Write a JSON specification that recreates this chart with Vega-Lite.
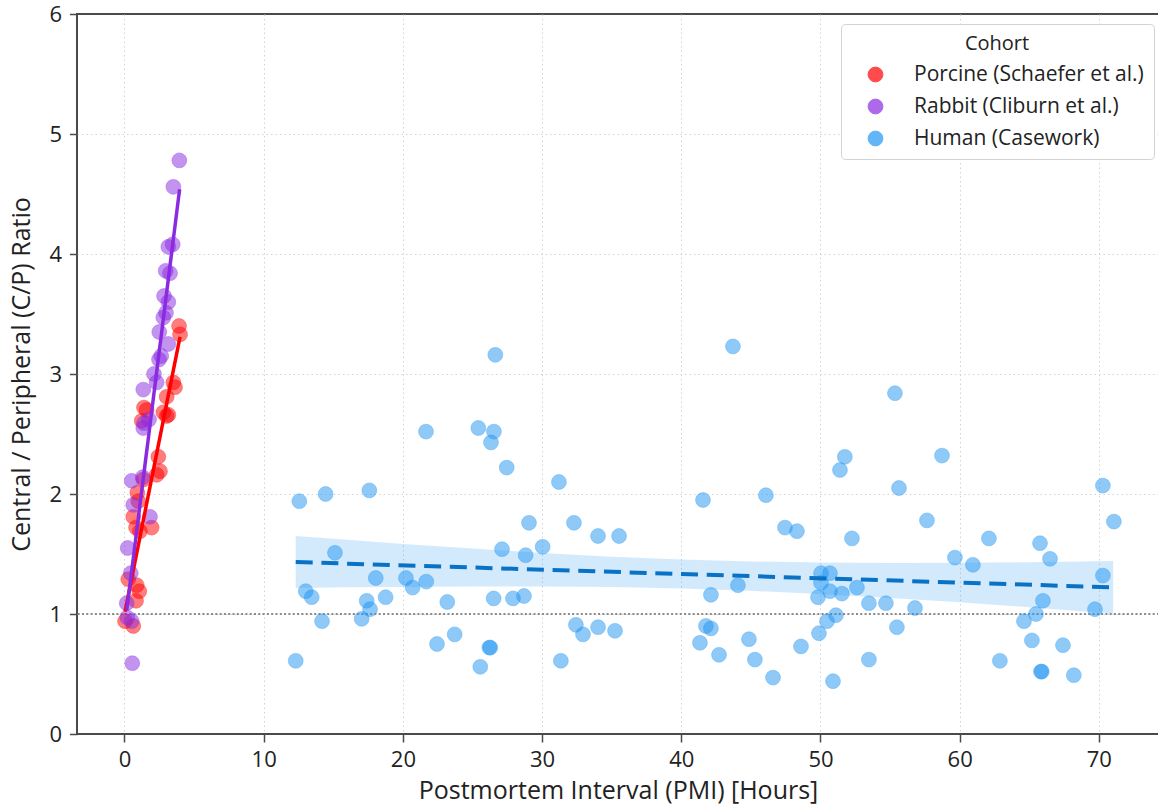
{
  "$schema": "https://vega.github.io/schema/vega-lite/v6.json",
  "width": 1082,
  "height": 720,
  "autosize": {"type": "none"},
  "padding": {"left": 77, "top": 14, "right": 0, "bottom": 75},
  "background": "white",
  "config": {
    "view": {"stroke": "#4a4a4a", "strokeWidth": 2},
    "axis": {
      "domain": false,
      "grid": true,
      "gridColor": "#d2d2d2",
      "gridDash": [1.5, 3],
      "gridWidth": 1,
      "tickColor": "#4a4a4a",
      "tickWidth": 1.5,
      "labelFont": "Open Sans",
      "labelFontSize": 22,
      "labelColor": "#222222",
      "titleFont": "Open Sans",
      "titleFontSize": 25,
      "titleFontWeight": "normal",
      "titleColor": "#222222"
    },
    "legend": {
      "orient": "none",
      "legendX": 764,
      "legendY": 10,
      "titleAnchor": "middle",
      "titleFont": "Open Sans",
      "titleFontSize": 20,
      "titleFontWeight": "normal",
      "titleColor": "#222222",
      "titlePadding": 10,
      "labelFont": "Open Sans",
      "labelFontSize": 21,
      "labelColor": "#222222",
      "labelOffset": 28,
      "labelLimit": 400,
      "symbolOffset": 14,
      "rowPadding": 10,
      "padding": 10,
      "strokeColor": "#d3d3d3",
      "fillColor": "white",
      "cornerRadius": 4,
      "symbolStrokeWidth": 1
    }
  },
  "datasets": {
    "ref": [{"ref": 1}],
    "band": [
      {"pmi": 12.3, "lo": 1.217, "hi": 1.650},
      {"pmi": 16, "lo": 1.222, "hi": 1.618},
      {"pmi": 20, "lo": 1.226, "hi": 1.584},
      {"pmi": 25, "lo": 1.230, "hi": 1.545},
      {"pmi": 30, "lo": 1.230, "hi": 1.509},
      {"pmi": 35, "lo": 1.224, "hi": 1.478},
      {"pmi": 40, "lo": 1.213, "hi": 1.454},
      {"pmi": 45, "lo": 1.193, "hi": 1.438},
      {"pmi": 50, "lo": 1.167, "hi": 1.429},
      {"pmi": 55, "lo": 1.134, "hi": 1.425},
      {"pmi": 60, "lo": 1.097, "hi": 1.427},
      {"pmi": 65, "lo": 1.056, "hi": 1.431},
      {"pmi": 71.03, "lo": 1.003, "hi": 1.442}
    ],
    "fits": [
      {"cohort": "Human (Casework)", "pmi": 12.3, "fit": 1.433},
      {"cohort": "Human (Casework)", "pmi": 71.03, "fit": 1.222},
      {"cohort": "Porcine (Schaefer et al.)", "pmi": 0.04, "fit": 1.02},
      {"cohort": "Porcine (Schaefer et al.)", "pmi": 3.99, "fit": 3.31},
      {"cohort": "Rabbit (Cliburn et al.)", "pmi": 0.16, "fit": 1.03},
      {"cohort": "Rabbit (Cliburn et al.)", "pmi": 3.96, "fit": 4.54}
    ],
    "points": [
      {"cohort": "Porcine (Schaefer et al.)", "pmi": 3.92, "ratio": 3.40},
      {"cohort": "Porcine (Schaefer et al.)", "pmi": 3.99, "ratio": 3.33},
      {"cohort": "Porcine (Schaefer et al.)", "pmi": 3.51, "ratio": 2.93},
      {"cohort": "Porcine (Schaefer et al.)", "pmi": 3.63, "ratio": 2.89},
      {"cohort": "Porcine (Schaefer et al.)", "pmi": 3.03, "ratio": 2.81},
      {"cohort": "Porcine (Schaefer et al.)", "pmi": 3.15, "ratio": 2.66},
      {"cohort": "Porcine (Schaefer et al.)", "pmi": 2.79, "ratio": 2.68},
      {"cohort": "Porcine (Schaefer et al.)", "pmi": 1.40, "ratio": 2.72},
      {"cohort": "Porcine (Schaefer et al.)", "pmi": 1.24, "ratio": 2.61},
      {"cohort": "Porcine (Schaefer et al.)", "pmi": 1.59, "ratio": 2.70},
      {"cohort": "Porcine (Schaefer et al.)", "pmi": 3.03, "ratio": 2.65},
      {"cohort": "Porcine (Schaefer et al.)", "pmi": 2.43, "ratio": 2.31},
      {"cohort": "Porcine (Schaefer et al.)", "pmi": 2.55, "ratio": 2.19},
      {"cohort": "Porcine (Schaefer et al.)", "pmi": 2.31, "ratio": 2.16},
      {"cohort": "Porcine (Schaefer et al.)", "pmi": 1.35, "ratio": 2.12},
      {"cohort": "Porcine (Schaefer et al.)", "pmi": 0.92, "ratio": 2.01},
      {"cohort": "Porcine (Schaefer et al.)", "pmi": 0.99, "ratio": 1.94},
      {"cohort": "Porcine (Schaefer et al.)", "pmi": 0.63, "ratio": 1.81},
      {"cohort": "Porcine (Schaefer et al.)", "pmi": 0.83, "ratio": 1.72},
      {"cohort": "Porcine (Schaefer et al.)", "pmi": 1.11, "ratio": 1.69},
      {"cohort": "Porcine (Schaefer et al.)", "pmi": 1.95, "ratio": 1.72},
      {"cohort": "Porcine (Schaefer et al.)", "pmi": 0.27, "ratio": 1.29},
      {"cohort": "Porcine (Schaefer et al.)", "pmi": 0.88, "ratio": 1.24},
      {"cohort": "Porcine (Schaefer et al.)", "pmi": 1.06, "ratio": 1.19},
      {"cohort": "Porcine (Schaefer et al.)", "pmi": 0.83, "ratio": 1.11},
      {"cohort": "Porcine (Schaefer et al.)", "pmi": 0.04, "ratio": 0.94},
      {"cohort": "Porcine (Schaefer et al.)", "pmi": 0.63, "ratio": 0.90},
      {"cohort": "Rabbit (Cliburn et al.)", "pmi": 3.94, "ratio": 4.78},
      {"cohort": "Rabbit (Cliburn et al.)", "pmi": 3.51, "ratio": 4.56},
      {"cohort": "Rabbit (Cliburn et al.)", "pmi": 3.15, "ratio": 4.06},
      {"cohort": "Rabbit (Cliburn et al.)", "pmi": 3.46, "ratio": 4.08},
      {"cohort": "Rabbit (Cliburn et al.)", "pmi": 2.96, "ratio": 3.86},
      {"cohort": "Rabbit (Cliburn et al.)", "pmi": 3.27, "ratio": 3.84},
      {"cohort": "Rabbit (Cliburn et al.)", "pmi": 2.84, "ratio": 3.65},
      {"cohort": "Rabbit (Cliburn et al.)", "pmi": 3.15, "ratio": 3.60},
      {"cohort": "Rabbit (Cliburn et al.)", "pmi": 2.98, "ratio": 3.51},
      {"cohort": "Rabbit (Cliburn et al.)", "pmi": 2.79, "ratio": 3.47},
      {"cohort": "Rabbit (Cliburn et al.)", "pmi": 2.50, "ratio": 3.35},
      {"cohort": "Rabbit (Cliburn et al.)", "pmi": 3.15, "ratio": 3.25},
      {"cohort": "Rabbit (Cliburn et al.)", "pmi": 2.64, "ratio": 3.15},
      {"cohort": "Rabbit (Cliburn et al.)", "pmi": 2.48, "ratio": 3.12},
      {"cohort": "Rabbit (Cliburn et al.)", "pmi": 2.12, "ratio": 3.00},
      {"cohort": "Rabbit (Cliburn et al.)", "pmi": 2.31, "ratio": 2.93},
      {"cohort": "Rabbit (Cliburn et al.)", "pmi": 1.35, "ratio": 2.87},
      {"cohort": "Rabbit (Cliburn et al.)", "pmi": 1.40, "ratio": 2.59},
      {"cohort": "Rabbit (Cliburn et al.)", "pmi": 1.35, "ratio": 2.55},
      {"cohort": "Rabbit (Cliburn et al.)", "pmi": 1.76, "ratio": 2.62},
      {"cohort": "Rabbit (Cliburn et al.)", "pmi": 0.52, "ratio": 2.11},
      {"cohort": "Rabbit (Cliburn et al.)", "pmi": 1.31, "ratio": 2.14},
      {"cohort": "Rabbit (Cliburn et al.)", "pmi": 0.63, "ratio": 1.91},
      {"cohort": "Rabbit (Cliburn et al.)", "pmi": 1.83, "ratio": 1.81},
      {"cohort": "Rabbit (Cliburn et al.)", "pmi": 0.23, "ratio": 1.55},
      {"cohort": "Rabbit (Cliburn et al.)", "pmi": 0.45, "ratio": 1.34},
      {"cohort": "Rabbit (Cliburn et al.)", "pmi": 0.16, "ratio": 1.09},
      {"cohort": "Rabbit (Cliburn et al.)", "pmi": 0.20, "ratio": 0.97},
      {"cohort": "Rabbit (Cliburn et al.)", "pmi": 0.52, "ratio": 0.94},
      {"cohort": "Rabbit (Cliburn et al.)", "pmi": 0.56, "ratio": 0.59},
      {"cohort": "Human (Casework)", "pmi": 12.30, "ratio": 0.61},
      {"cohort": "Human (Casework)", "pmi": 12.56, "ratio": 1.94},
      {"cohort": "Human (Casework)", "pmi": 13.02, "ratio": 1.19},
      {"cohort": "Human (Casework)", "pmi": 13.45, "ratio": 1.14},
      {"cohort": "Human (Casework)", "pmi": 14.45, "ratio": 2.00},
      {"cohort": "Human (Casework)", "pmi": 14.19, "ratio": 0.94},
      {"cohort": "Human (Casework)", "pmi": 15.12, "ratio": 1.51},
      {"cohort": "Human (Casework)", "pmi": 17.04, "ratio": 0.96},
      {"cohort": "Human (Casework)", "pmi": 17.59, "ratio": 2.03},
      {"cohort": "Human (Casework)", "pmi": 17.40, "ratio": 1.11},
      {"cohort": "Human (Casework)", "pmi": 17.64, "ratio": 1.04},
      {"cohort": "Human (Casework)", "pmi": 18.05, "ratio": 1.30},
      {"cohort": "Human (Casework)", "pmi": 18.76, "ratio": 1.14},
      {"cohort": "Human (Casework)", "pmi": 20.22, "ratio": 1.30},
      {"cohort": "Human (Casework)", "pmi": 20.70, "ratio": 1.22},
      {"cohort": "Human (Casework)", "pmi": 21.68, "ratio": 1.27},
      {"cohort": "Human (Casework)", "pmi": 21.66, "ratio": 2.52},
      {"cohort": "Human (Casework)", "pmi": 22.45, "ratio": 0.75},
      {"cohort": "Human (Casework)", "pmi": 23.19, "ratio": 1.10},
      {"cohort": "Human (Casework)", "pmi": 23.72, "ratio": 0.83},
      {"cohort": "Human (Casework)", "pmi": 25.42, "ratio": 2.55},
      {"cohort": "Human (Casework)", "pmi": 25.56, "ratio": 0.56},
      {"cohort": "Human (Casework)", "pmi": 26.33, "ratio": 2.43},
      {"cohort": "Human (Casework)", "pmi": 26.54, "ratio": 2.52},
      {"cohort": "Human (Casework)", "pmi": 26.64, "ratio": 3.16},
      {"cohort": "Human (Casework)", "pmi": 26.21, "ratio": 0.72},
      {"cohort": "Human (Casework)", "pmi": 26.28, "ratio": 0.72},
      {"cohort": "Human (Casework)", "pmi": 26.52, "ratio": 1.13},
      {"cohort": "Human (Casework)", "pmi": 27.12, "ratio": 1.54},
      {"cohort": "Human (Casework)", "pmi": 27.46, "ratio": 2.22},
      {"cohort": "Human (Casework)", "pmi": 27.91, "ratio": 1.13},
      {"cohort": "Human (Casework)", "pmi": 28.70, "ratio": 1.15},
      {"cohort": "Human (Casework)", "pmi": 28.82, "ratio": 1.49},
      {"cohort": "Human (Casework)", "pmi": 29.06, "ratio": 1.76},
      {"cohort": "Human (Casework)", "pmi": 30.04, "ratio": 1.56},
      {"cohort": "Human (Casework)", "pmi": 31.21, "ratio": 2.10},
      {"cohort": "Human (Casework)", "pmi": 31.35, "ratio": 0.61},
      {"cohort": "Human (Casework)", "pmi": 32.29, "ratio": 1.76},
      {"cohort": "Human (Casework)", "pmi": 32.43, "ratio": 0.91},
      {"cohort": "Human (Casework)", "pmi": 32.94, "ratio": 0.83},
      {"cohort": "Human (Casework)", "pmi": 34.02, "ratio": 1.65},
      {"cohort": "Human (Casework)", "pmi": 34.02, "ratio": 0.89},
      {"cohort": "Human (Casework)", "pmi": 35.24, "ratio": 0.86},
      {"cohort": "Human (Casework)", "pmi": 35.53, "ratio": 1.65},
      {"cohort": "Human (Casework)", "pmi": 43.71, "ratio": 3.23},
      {"cohort": "Human (Casework)", "pmi": 41.56, "ratio": 1.95},
      {"cohort": "Human (Casework)", "pmi": 46.08, "ratio": 1.99},
      {"cohort": "Human (Casework)", "pmi": 47.45, "ratio": 1.72},
      {"cohort": "Human (Casework)", "pmi": 48.31, "ratio": 1.69},
      {"cohort": "Human (Casework)", "pmi": 42.13, "ratio": 1.16},
      {"cohort": "Human (Casework)", "pmi": 44.07, "ratio": 1.24},
      {"cohort": "Human (Casework)", "pmi": 41.77, "ratio": 0.90},
      {"cohort": "Human (Casework)", "pmi": 42.13, "ratio": 0.88},
      {"cohort": "Human (Casework)", "pmi": 41.34, "ratio": 0.76},
      {"cohort": "Human (Casework)", "pmi": 42.71, "ratio": 0.66},
      {"cohort": "Human (Casework)", "pmi": 44.86, "ratio": 0.79},
      {"cohort": "Human (Casework)", "pmi": 45.29, "ratio": 0.62},
      {"cohort": "Human (Casework)", "pmi": 46.59, "ratio": 0.47},
      {"cohort": "Human (Casework)", "pmi": 48.60, "ratio": 0.73},
      {"cohort": "Human (Casework)", "pmi": 49.89, "ratio": 0.84},
      {"cohort": "Human (Casework)", "pmi": 50.47, "ratio": 0.94},
      {"cohort": "Human (Casework)", "pmi": 51.11, "ratio": 0.99},
      {"cohort": "Human (Casework)", "pmi": 50.90, "ratio": 0.44},
      {"cohort": "Human (Casework)", "pmi": 49.82, "ratio": 1.14},
      {"cohort": "Human (Casework)", "pmi": 50.04, "ratio": 1.34},
      {"cohort": "Human (Casework)", "pmi": 50.68, "ratio": 1.34},
      {"cohort": "Human (Casework)", "pmi": 50.04, "ratio": 1.26},
      {"cohort": "Human (Casework)", "pmi": 50.68, "ratio": 1.19},
      {"cohort": "Human (Casework)", "pmi": 51.75, "ratio": 2.31},
      {"cohort": "Human (Casework)", "pmi": 51.40, "ratio": 2.20},
      {"cohort": "Human (Casework)", "pmi": 55.35, "ratio": 2.84},
      {"cohort": "Human (Casework)", "pmi": 55.64, "ratio": 2.05},
      {"cohort": "Human (Casework)", "pmi": 58.73, "ratio": 2.32},
      {"cohort": "Human (Casework)", "pmi": 70.29, "ratio": 2.07},
      {"cohort": "Human (Casework)", "pmi": 71.08, "ratio": 1.77},
      {"cohort": "Human (Casework)", "pmi": 52.26, "ratio": 1.63},
      {"cohort": "Human (Casework)", "pmi": 57.65, "ratio": 1.78},
      {"cohort": "Human (Casework)", "pmi": 62.10, "ratio": 1.63},
      {"cohort": "Human (Casework)", "pmi": 65.77, "ratio": 1.59},
      {"cohort": "Human (Casework)", "pmi": 59.66, "ratio": 1.47},
      {"cohort": "Human (Casework)", "pmi": 60.95, "ratio": 1.41},
      {"cohort": "Human (Casework)", "pmi": 66.49, "ratio": 1.46},
      {"cohort": "Human (Casework)", "pmi": 70.29, "ratio": 1.32},
      {"cohort": "Human (Casework)", "pmi": 51.54, "ratio": 1.17},
      {"cohort": "Human (Casework)", "pmi": 52.62, "ratio": 1.22},
      {"cohort": "Human (Casework)", "pmi": 53.48, "ratio": 1.09},
      {"cohort": "Human (Casework)", "pmi": 54.70, "ratio": 1.09},
      {"cohort": "Human (Casework)", "pmi": 56.79, "ratio": 1.05},
      {"cohort": "Human (Casework)", "pmi": 55.49, "ratio": 0.89},
      {"cohort": "Human (Casework)", "pmi": 53.48, "ratio": 0.62},
      {"cohort": "Human (Casework)", "pmi": 65.98, "ratio": 1.11},
      {"cohort": "Human (Casework)", "pmi": 65.48, "ratio": 1.00},
      {"cohort": "Human (Casework)", "pmi": 64.62, "ratio": 0.94},
      {"cohort": "Human (Casework)", "pmi": 69.72, "ratio": 1.04},
      {"cohort": "Human (Casework)", "pmi": 65.19, "ratio": 0.78},
      {"cohort": "Human (Casework)", "pmi": 67.42, "ratio": 0.74},
      {"cohort": "Human (Casework)", "pmi": 62.89, "ratio": 0.61},
      {"cohort": "Human (Casework)", "pmi": 65.84, "ratio": 0.52},
      {"cohort": "Human (Casework)", "pmi": 65.90, "ratio": 0.52},
      {"cohort": "Human (Casework)", "pmi": 68.20, "ratio": 0.49}
    ]
  },
  "layer": [
    {
      "data": {"name": "band"},
      "mark": {"type": "area", "color": "#2196F3", "opacity": 0.2},
      "encoding": {
        "x": {"field": "pmi", "type": "quantitative", "title": "Postmortem Interval (PMI) [Hours]",
              "scale": {"domain": [-3.412, 74.32], "nice": false, "zero": false},
              "axis": {"values": [0, 10, 20, 30, 40, 50, 60, 70], "tickSize": 8, "labelPadding": 7, "titlePadding": 8}},
        "y": {"field": "lo", "type": "quantitative", "title": "Central / Peripheral (C/P) Ratio",
              "scale": {"domain": [0, 6], "nice": false},
              "axis": {"values": [0, 1, 2, 3, 4, 5, 6], "format": "d", "tickSize": 7.5, "labelPadding": 8, "titlePadding": 14,
                       "gridOpacity": {"condition": {"test": "datum.value === 0 || datum.value === 6", "value": 0}, "value": 1}}},
        "y2": {"field": "hi"}
      }
    },
    {
      "data": {"name": "ref"},
      "mark": {"type": "rule", "color": "#8a8a8a", "strokeWidth": 2, "strokeDash": [2, 2.3]},
      "encoding": {
        "y": {"field": "ref", "type": "quantitative", "title": "Central / Peripheral (C/P) Ratio"}
      }
    },
    {
      "data": {"name": "points"},
      "mark": {"type": "circle", "strokeWidth": 1, "strokeOpacity": 0.55},
      "encoding": {
        "x": {"field": "pmi", "type": "quantitative", "title": "Postmortem Interval (PMI) [Hours]"},
        "y": {"field": "ratio", "type": "quantitative", "title": "Central / Peripheral (C/P) Ratio"},
        "color": {"field": "cohort", "type": "nominal", "title": "Cohort",
                  "scale": {"domain": ["Porcine (Schaefer et al.)", "Rabbit (Cliburn et al.)", "Human (Casework)"],
                            "range": ["#FF0000", "#8A2BE2", "#2196F3"]}},
        "stroke": {"field": "cohort", "type": "nominal", "title": "Cohort",
                  "scale": {"domain": ["Porcine (Schaefer et al.)", "Rabbit (Cliburn et al.)", "Human (Casework)"],
                            "range": ["#FF0000", "#8A2BE2", "#2196F3"]}},
        "size": {"field": "cohort", "type": "nominal", "title": "Cohort",
                 "scale": {"domain": ["Porcine (Schaefer et al.)", "Rabbit (Cliburn et al.)", "Human (Casework)"],
                           "range": [220, 220, 125]}},
        "fillOpacity": {"field": "cohort", "type": "nominal", "title": "Cohort",
                 "scale": {"domain": ["Porcine (Schaefer et al.)", "Rabbit (Cliburn et al.)", "Human (Casework)"],
                           "range": [0.72, 0.72, 0.45]}}
      }
    },
    {
      "data": {"name": "fits"},
      "transform": [{"filter": "datum.cohort === 'Human (Casework)'"}],
      "mark": {"type": "line", "color": "#0a72c4", "strokeWidth": 4, "strokeDash": [17, 8.7]},
      "encoding": {
        "x": {"field": "pmi", "type": "quantitative", "title": "Postmortem Interval (PMI) [Hours]"},
        "y": {"field": "fit", "type": "quantitative", "title": "Central / Peripheral (C/P) Ratio"}
      }
    },
    {
      "data": {"name": "fits"},
      "transform": [{"filter": "datum.cohort === 'Porcine (Schaefer et al.)'"}],
      "mark": {"type": "line", "color": "#FF0000", "strokeWidth": 3.5},
      "encoding": {
        "x": {"field": "pmi", "type": "quantitative", "title": "Postmortem Interval (PMI) [Hours]"},
        "y": {"field": "fit", "type": "quantitative", "title": "Central / Peripheral (C/P) Ratio"}
      }
    },
    {
      "data": {"name": "fits"},
      "transform": [{"filter": "datum.cohort === 'Rabbit (Cliburn et al.)'"}],
      "mark": {"type": "line", "color": "#8A2BE2", "strokeWidth": 3.5},
      "encoding": {
        "x": {"field": "pmi", "type": "quantitative", "title": "Postmortem Interval (PMI) [Hours]"},
        "y": {"field": "fit", "type": "quantitative", "title": "Central / Peripheral (C/P) Ratio"}
      }
    }
  ]
}
